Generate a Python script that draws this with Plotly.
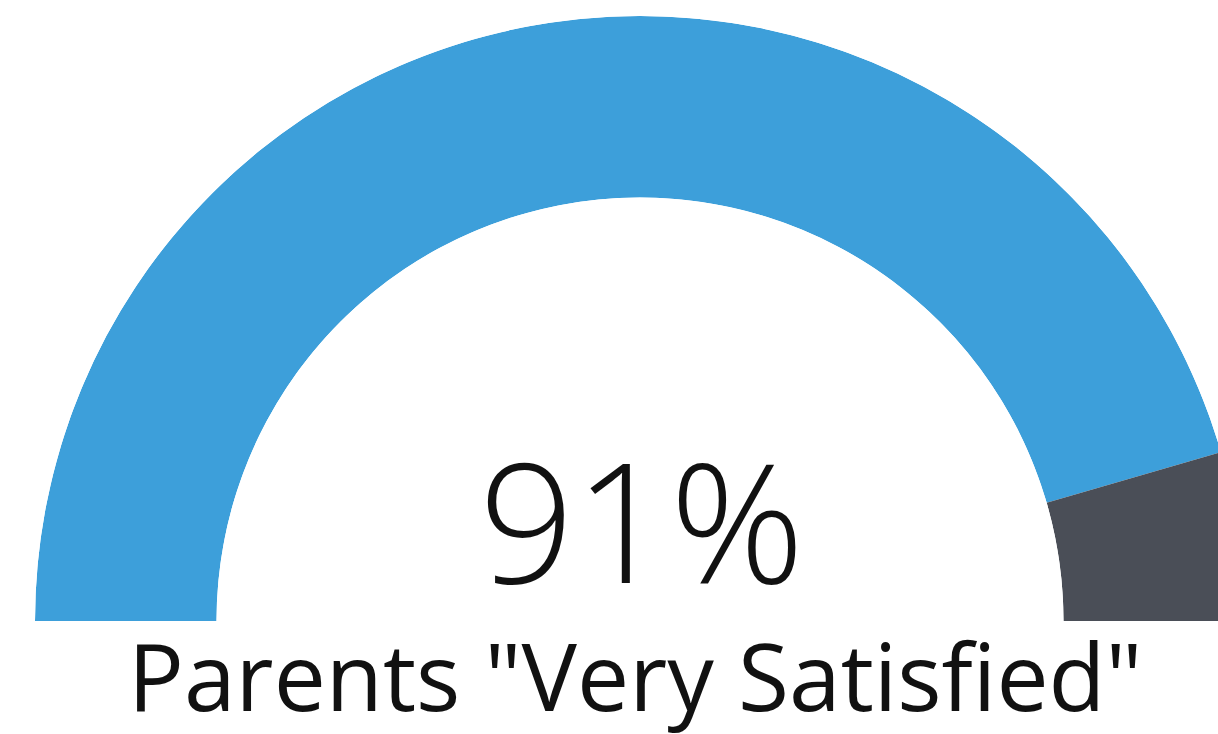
import plotly.graph_objects as go

labels = ["Very Satisfied", "Other"]
values = [91, 9]
colors = ["#3D9FDA", "#4A4E57"]
center_text = "91%"
caption = 'Parents "Very Satisfied"'

total = sum(values)
spans = [v / total * 180 for v in values]
centers = []
acc = 0
for s in spans:
    centers.append(acc + s / 2)
    acc += s

W, H = 1260, 734
fig = go.Figure()
fig.add_trace(go.Barpolar(
    r=[1] * len(values), theta=centers, width=spans, base=0,
    marker=dict(color=colors, line=dict(width=0)),
    text=labels, hoverinfo="text", showlegend=False,
))

fig.update_layout(
    width=W, height=H,
    margin=dict(l=0, r=0, t=0, b=0),
    paper_bgcolor="white",
    polar=dict(
        domain=dict(x=[35 / W, 1245 / W], y=[113 / H, 718 / H]),
        sector=[0, 180],
        hole=0.70,
        bgcolor="white",
        radialaxis=dict(range=[0, 1], visible=False),
        angularaxis=dict(rotation=180, direction="clockwise", visible=False),
    ),
    annotations=[
        dict(text=center_text, x=641 / W, y=(H - 586) / H, xref="paper", yref="paper",
             xanchor="center", yanchor="bottom", showarrow=False, yshift=-48,
             font=dict(family="Open Sans", size=167, color="#111111", weight=300)),
        dict(text=caption, x=635 / W, y=(H - 712) / H, xref="paper", yref="paper",
             xanchor="center", yanchor="bottom", showarrow=False, yshift=-28,
             font=dict(family="Open Sans", size=93, color="#111111")),
    ],
)

post = ("document.documentElement.style.overflow='hidden';"
        "document.body.style.overflow='hidden';document.body.style.margin='0';")
fig.write_html("out.html", post_script=post, config={"displayModeBar": False})
